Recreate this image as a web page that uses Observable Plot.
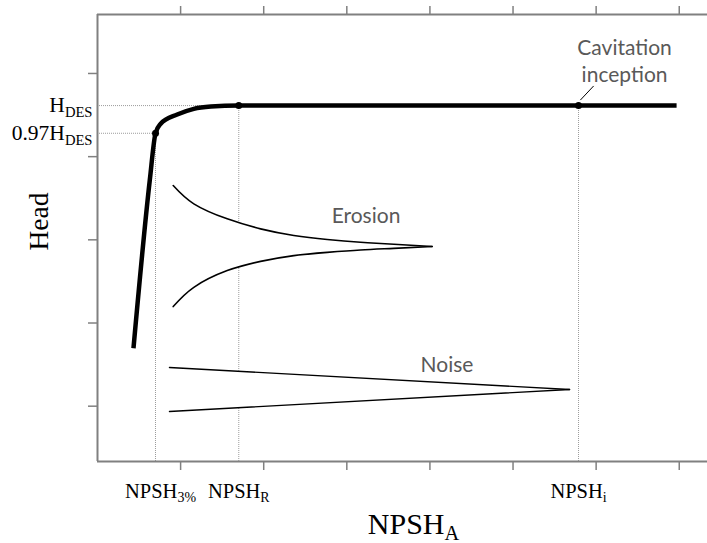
<!DOCTYPE html>
<html><head><meta charset="utf-8">
<script src="https://cdn.jsdelivr.net/npm/d3@7"></script>
<script src="https://cdn.jsdelivr.net/npm/@observablehq/plot@0.6"></script>
<style>body{margin:0;background:#fff;} svg{display:block}</style>
</head><body><div id="chart"></div>
<script>
// ---- data (in chart units; ticks fall on integers) ----
const xTicks = [1, 2, 3, 4, 5, 6, 7];
const yTicks = [1, 2, 3, 4, 5];
const xDomain = [0, 7.34];
const yDomain = [0.335, 5.709];

// head vs NPSH_A curve
const headX = [0.433, 0.629, 0.698, 0.758, 0.959, 1.159, 1.364, 1.700, 6.968];
const headY = [1.697, 3.716, 4.281, 4.394, 4.506, 4.575, 4.602, 4.614, 4.614];

// key values
const npsh3 = 0.698, npshR = 1.700, npshI = 5.788;
const hDes = 4.614, h97 = 4.281;
const keyPointX = [npsh3, npshR, npshI];
const keyPointY = [h97, hDes, hDes];

// erosion wedge
const erosionX     = [0.911, 1.159, 1.561, 1.962, 2.363, 2.764, 3.165, 3.566, 4.027];
const erosionUpper = [3.653, 3.433, 3.252, 3.132, 3.052, 3.004, 2.971, 2.947, 2.920];
const erosionLower = [2.198, 2.429, 2.630, 2.741, 2.810, 2.849, 2.878, 2.897, 2.920];

// noise wedge
const noiseX     = [0.866, 5.680];
const noiseUpper = [1.465, 1.201];
const noiseLower = [0.936, 1.201];

// cavitation leader line
const leaderX = [5.81, 5.97];
const leaderY = [4.68, 4.85];

// labels
const xLabels = ["NPSH_{3%}", "NPSH_{R}", "NPSH_{i}"];
const yLabels = ["H_{DES}", "0.97H_{DES}"];
const yLabelValues = [hDes, h97];
const annotations = [
  {text: "Erosion", x: 3.231, y: 3.208},
  {text: "Noise", x: 4.206, y: 1.405},
  {text: "Cavitation\ninception", x: 6.342, y: 4.894}
];
const xTitle = "NPSH_{A}";
const yTitle = "Head";

// ---- derived tables ----
const head = headX.map((x, i) => ({x, y: headY[i]}));
const keyPoints = keyPointX.map((x, i) => ({x, y: keyPointY[i]}));
const erosion = erosionX.map((x, i) => ({x, lo: erosionLower[i], hi: erosionUpper[i]}));
const noise = noiseX.map((x, i) => ({x, lo: noiseLower[i], hi: noiseUpper[i]}));
const hGuides = [{y: hDes, x2: npshR}, {y: h97, x2: npsh3}];
const xLab = xLabels.map((t, i) => ({t, x: keyPointX[i]}));
const yLab = yLabels.map((t, i) => ({t, y: yLabelValues[i]}));

const axisColor = "#808080";
const guide = {stroke: "#9c9c9c", strokeWidth: 1, strokeDasharray: "1,1"};
const serif = "Liberation Serif, Times New Roman, serif";
const sans = "Lato, Open Sans, sans-serif";
const xLabStyle = {x: "x", text: "t", frameAnchor: "bottom", dy: 36, lineAnchor: "bottom", textAnchor: "middle", fontFamily: serif, fontSize: 20.5, fill: "black"};

const svg = Plot.plot({
  width: 707,
  height: 543,
  marginLeft: 97,
  marginRight: 0,
  marginTop: 14,
  marginBottom: 82,
  style: {background: "white", overflow: "visible"},
  x: {domain: xDomain, axis: null},
  y: {domain: yDomain, axis: null},
  marks: [
    // dotted guides
    Plot.ruleX(keyPoints, {x: "x", y1: yDomain[0], y2: "y", ...guide}),
    Plot.ruleY(hGuides, {y: "y", x1: xDomain[0], x2: "x2", ...guide}),
    // frame lines and ticks
    Plot.ruleX([xDomain[0]], {stroke: axisColor, strokeWidth: 2}),
    Plot.ruleY([yDomain[0], yDomain[1]], {stroke: axisColor, strokeWidth: 2}),
    Plot.axisX({anchor: "top", ticks: xTicks, tickSize: 9, tickFormat: () => "", label: null, stroke: axisColor, strokeWidth: 1.5}),
    Plot.axisX({anchor: "bottom", ticks: xTicks, tickSize: 9, tickFormat: () => "", label: null, stroke: axisColor, strokeWidth: 1.5}),
    Plot.axisY({anchor: "left", ticks: yTicks, tickSize: 9, tickFormat: () => "", label: null, stroke: axisColor, strokeWidth: 1.5}),
    // wedges (white-filled)
    Plot.areaY(erosion, {x: "x", y1: "lo", y2: "hi", fill: "white", curve: "natural"}),
    Plot.line(erosion, {x: "x", y: "hi", stroke: "black", strokeWidth: 1.6, curve: "natural"}),
    Plot.line(erosion, {x: "x", y: "lo", stroke: "black", strokeWidth: 1.6, curve: "natural"}),
    Plot.areaY(noise, {x: "x", y1: "lo", y2: "hi", fill: "white"}),
    Plot.line(noise, {x: "x", y: "hi", stroke: "black", strokeWidth: 1.4}),
    Plot.line(noise, {x: "x", y: "lo", stroke: "black", strokeWidth: 1.4}),
    // head curve
    Plot.line(head, {x: "x", y: "y", stroke: "black", strokeWidth: 4.5, curve: "monotone-x", strokeLinecap: "butt"}),
    Plot.dot(keyPoints, {x: "x", y: "y", r: 3.5, fill: "black"}),
    Plot.link([0], {x1: () => leaderX[0], y1: () => leaderY[0], x2: () => leaderX[1], y2: () => leaderY[1], stroke: "black", strokeWidth: 1}),
    // annotations
    Plot.text(annotations, {x: "x", y: "y", text: "text", lineAnchor: "bottom", textAnchor: "middle", fontFamily: sans, fontSize: 21, fill: "#595959", lineHeight: 1.3}),
    // tick labels
    Plot.text(xLab.slice(0, 1), {...xLabStyle, dx: 5}),
    Plot.text(xLab.slice(1), xLabStyle),
    Plot.text(yLab, {y: "y", text: "t", frameAnchor: "left", dx: -5, lineAnchor: "middle", textAnchor: "end", fontFamily: serif, fontSize: 21.5, fill: "black"}),
    // axis titles
    Plot.text([xTitle], {frameAnchor: "bottom", dx: 11, dy: 72, lineAnchor: "bottom", textAnchor: "middle", fontFamily: serif, fontSize: 30, fill: "black"}),
    Plot.text([yTitle], {frameAnchor: "left", rotate: -90, dx: -50, dy: -16.5, lineAnchor: "bottom", textAnchor: "middle", fontFamily: serif, fontSize: 27.5, fill: "black"})
  ]
});

// subscripts: "BASE_{SUB}"
const ns = "http://www.w3.org/2000/svg";
svg.querySelectorAll("text").forEach(t => {
  const m = (t.textContent || "").match(/^(.*)_\{(.*)\}$/);
  if (!m) return;
  t.textContent = "";
  const base = document.createElementNS(ns, "tspan");
  base.textContent = m[1];
  const sub = document.createElementNS(ns, "tspan");
  sub.textContent = m[2];
  sub.setAttribute("font-size", "0.68em");
  sub.setAttribute("dy", "0.3em");
  t.append(base, sub);
});

document.getElementById("chart").append(svg);
</script>
</body></html>
